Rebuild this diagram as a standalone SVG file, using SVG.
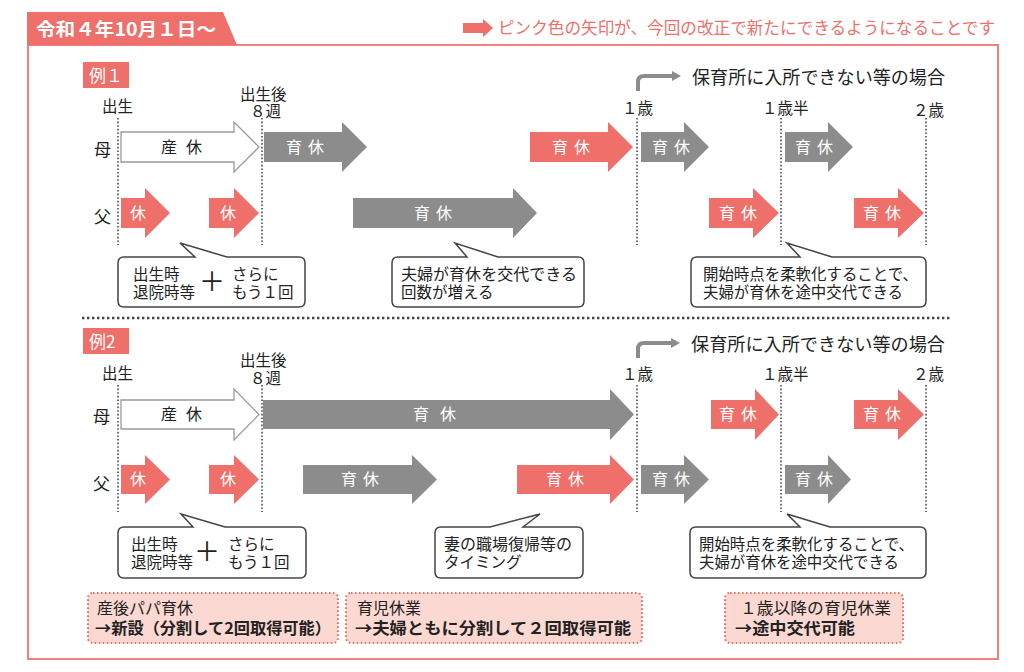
<svg xmlns="http://www.w3.org/2000/svg" width="1024" height="672" viewBox="0 0 1024 672">
<style>
text{font-family:"Noto Sans CJK JP","Noto Sans",sans-serif;fill:#222}
.pk{fill:#ef6f6a}
.gy{fill:#8c8c8c}
.wa{fill:#fff;stroke:#9a9a9a;stroke-width:1.3}
.at{fill:#fff;font-size:16px;text-anchor:middle;letter-spacing:6px}
.dt{font-size:16px;text-anchor:middle;letter-spacing:9px}
.lb{font-size:15.5px}
.rw{font-size:17px}
.vl{stroke:#333;stroke-width:1.4;stroke-dasharray:1.6 2}
.co{fill:#fff;stroke:#444;stroke-width:1.5}
.ct{font-size:15.5px}
.pb{fill:#fbd8d1;stroke:#ef6f6a;stroke-width:2;stroke-dasharray:1.6 2.4}
.pt{font-size:16px}
.bd{font-weight:bold}
.ex{fill:#fff;font-size:17px}
.bent{fill:none;stroke:#8c8c8c;stroke-width:4}
</style>

<g id="frame">
<path d="M28,45 H998 V659 H28 Z" fill="none" stroke="#f08080" stroke-width="2"/>
<path d="M27,12 H223 L237,45 H27 Z" class="pk"/>
<text x="36" y="36" class="bd" style="fill:#fff;font-size:18px" textLength="180" lengthAdjust="spacingAndGlyphs">令和４年10月１日～</text>
</g>

<g id="legend">
<path d="M463,23 H483 V19 L493,28 L483,37 V33 H463 Z" class="pk"/>
<text x="498" y="34" style="fill:#ef6f6a;font-size:16.5px" textLength="497" lengthAdjust="spacingAndGlyphs">ピンク色の矢印が、今回の改正で新たにできるようになることです</text>
</g>

<!-- Example 1 -->
<g id="ex1-label">
<rect x="83" y="62" width="46" height="26" class="pk"/>
<text x="89" y="82" class="ex">例１</text>
</g>

<g id="ex1-timeline">
<text x="102" y="112" class="lb">出生</text>
<text x="240" y="100" class="lb">出生後</text>
<text x="250" y="117" class="lb">８週</text>
<text x="622" y="114" class="lb">１歳</text>
<text x="762" y="114" class="lb">１歳半</text>
<text x="913" y="116" class="lb">２歳</text>
<text x="692" y="84" style="font-size:18px" textLength="253" lengthAdjust="spacingAndGlyphs">保育所に入所できない等の場合</text>
<text x="94" y="156" class="rw">母</text>
<text x="94" y="223" class="rw">父</text>
</g>

<g id="ex1-mother-sankyu">
<path d="M121,132 H234 V122 L259,147 L234,172 V162 H121 Z" class="wa"/>
<text x="186" y="153" class="dt">産休</text>
</g>
<g id="ex1-mother-ikukyu1">
<path d="M264,132 H342 V122 L367,147 L342,172 V162 H264 Z" class="gy"/>
<text x="308" y="153" class="at">育休</text>
</g>
<g id="ex1-mother-ikukyu2">
<path d="M530,132 H608 V122 L633,147 L608,172 V162 H530 Z" class="pk"/>
<text x="574" y="153" class="at">育休</text>
</g>
<g id="ex1-mother-ikukyu3">
<path d="M641,132 H684 V122 L709,147 L684,172 V162 H641 Z" class="gy"/>
<text x="674" y="153" class="at">育休</text>
</g>
<g id="ex1-mother-ikukyu4">
<path d="M785,132 H828 V122 L853,147 L828,172 V162 H785 Z" class="gy"/>
<text x="817" y="153" class="at">育休</text>
</g>

<g id="ex1-father-kyu1">
<path d="M121,198 H145 V188 L170,213 L145,238 V228 H121 Z" class="pk"/>
<text x="138" y="219" class="at" style="letter-spacing:0">休</text>
</g>
<g id="ex1-father-kyu2">
<path d="M209,198 H234 V188 L259,213 L234,238 V228 H209 Z" class="pk"/>
<text x="228" y="219" class="at" style="letter-spacing:0">休</text>
</g>
<g id="ex1-father-ikukyu1">
<path d="M353,198 H513 V188 L537,213 L513,238 V228 H353 Z" class="gy"/>
<text x="436" y="219" class="at">育休</text>
</g>
<g id="ex1-father-ikukyu2">
<path d="M709,198 H753 V188 L779,213 L753,238 V228 H709 Z" class="pk"/>
<text x="741" y="219" class="at">育休</text>
</g>
<g id="ex1-father-ikukyu3">
<path d="M854,198 H898 V188 L924,213 L898,238 V228 H854 Z" class="pk"/>
<text x="885" y="219" class="at">育休</text>
</g>

<g id="ex1-callout1">
<path d="M124,257 H195 L180,243 L227,257 H299 Q305,257 305,263 V301 Q305,307 299,307 H124 Q118,307 118,301 V263 Q118,257 124,257 Z" class="co"/>
<text x="133" y="280" class="ct">出生時</text>
<text x="133" y="298" class="ct">退院時等</text>
<text x="212" y="291" style="font-size:26px;text-anchor:middle">＋</text>
<text x="232" y="280" class="ct">さらに</text>
<text x="232" y="298" class="ct">もう１回</text>
</g>
<g id="ex1-callout2">
<path d="M398,257 H467 L455,243 L498,257 H578 Q584,257 584,263 V301 Q584,307 578,307 H398 Q392,307 392,301 V263 Q392,257 398,257 Z" class="co"/>
<text x="401" y="280" class="ct" textLength="176" lengthAdjust="spacingAndGlyphs">夫婦が育休を交代できる</text>
<text x="401" y="298" class="ct">回数が増える</text>
</g>
<g id="ex1-callout3">
<path d="M697,257 H800 L787,243 L832,257 H920 Q926,257 926,263 V301 Q926,307 920,307 H697 Q691,307 691,301 V263 Q691,257 697,257 Z" class="co"/>
<text x="703" y="280" class="ct" textLength="215" lengthAdjust="spacingAndGlyphs">開始時点を柔軟化することで、</text>
<text x="703" y="298" class="ct" textLength="200" lengthAdjust="spacingAndGlyphs">夫婦が育休を途中交代できる</text>
</g>

<line x1="82" y1="318" x2="950" y2="318" stroke="#444" stroke-width="2.4" stroke-dasharray="2.4 2.6"/>

<!-- Example 2 -->
<g id="ex2-label">
<rect x="83" y="328" width="46" height="26" class="pk"/>
<text x="89" y="348" class="ex">例2</text>
</g>

<g id="ex2-timeline">
<text x="102" y="379" class="lb">出生</text>
<text x="240" y="366" class="lb">出生後</text>
<text x="250" y="384" class="lb">８週</text>
<text x="622" y="380" class="lb">１歳</text>
<text x="762" y="380" class="lb">１歳半</text>
<text x="913" y="380" class="lb">２歳</text>
<text x="691" y="351" style="font-size:18px" textLength="254" lengthAdjust="spacingAndGlyphs">保育所に入所できない等の場合</text>
<text x="93" y="423" class="rw">母</text>
<text x="93" y="490" class="rw">父</text>
</g>

<g id="ex2-mother-sankyu">
<path d="M121,400 H234 V389 L259,414.5 L234,440 V429 H121 Z" class="wa"/>
<text x="186" y="420" class="dt">産休</text>
</g>
<g id="ex2-mother-ikukyu1">
<path d="M263,400 H610 V389 L634,414.5 L610,440 V429 H263 Z" class="gy"/>
<text x="440" y="420" class="at" style="letter-spacing:11px">育休</text>
</g>
<g id="ex2-mother-ikukyu2">
<path d="M711,400 H755 V389 L779,414.5 L755,440 V429 H711 Z" class="pk"/>
<text x="741" y="420" class="at">育休</text>
</g>
<g id="ex2-mother-ikukyu3">
<path d="M854,400 H898 V389 L924,414.5 L898,440 V429 H854 Z" class="pk"/>
<text x="885" y="420" class="at">育休</text>
</g>

<g id="ex2-father-kyu1">
<path d="M121,465 H145 V455 L170,479.5 L145,504 V494 H121 Z" class="pk"/>
<text x="138" y="485" class="at" style="letter-spacing:0">休</text>
</g>
<g id="ex2-father-kyu2">
<path d="M209,465 H234 V455 L259,479.5 L234,504 V494 H209 Z" class="pk"/>
<text x="228" y="485" class="at" style="letter-spacing:0">休</text>
</g>
<g id="ex2-father-ikukyu1">
<path d="M303,465 H412 V455 L437,479.5 L412,504 V494 H303 Z" class="gy"/>
<text x="363" y="485" class="at">育休</text>
</g>
<g id="ex2-father-ikukyu2">
<path d="M517,465 H610 V455 L634,479.5 L610,504 V494 H517 Z" class="pk"/>
<text x="568" y="485" class="at">育休</text>
</g>
<g id="ex2-father-ikukyu3">
<path d="M641,465 H684 V455 L709,479.5 L684,504 V494 H641 Z" class="gy"/>
<text x="674" y="485" class="at">育休</text>
</g>
<g id="ex2-father-ikukyu4">
<path d="M785,465 H828 V455 L851,479.5 L828,504 V494 H785 Z" class="gy"/>
<text x="817" y="485" class="at">育休</text>
</g>

<g id="ex2-callout1">
<path d="M124,527 H193 L181,514 L225,527 H300 Q306,527 306,533 V572 Q306,578 300,578 H124 Q118,578 118,572 V533 Q118,527 124,527 Z" class="co"/>
<text x="131" y="550" class="ct">出生時</text>
<text x="131" y="568" class="ct">退院時等</text>
<text x="207" y="561" style="font-size:26px;text-anchor:middle">＋</text>
<text x="228" y="550" class="ct">さらに</text>
<text x="228" y="568" class="ct">もう１回</text>
</g>
<g id="ex2-callout2">
<path d="M441,527 H490 L540,514 L523,527 H577 Q583,527 583,533 V572 Q583,578 577,578 H441 Q435,578 435,572 V533 Q435,527 441,527 Z" class="co"/>
<text x="444" y="550" class="ct" textLength="128" lengthAdjust="spacingAndGlyphs">妻の職場復帰等の</text>
<text x="444" y="568" class="ct">タイミング</text>
</g>
<g id="ex2-callout3">
<path d="M696,527 H800 L787,514 L830,527 H920 Q926,527 926,533 V572 Q926,578 920,578 H696 Q690,578 690,572 V533 Q690,527 696,527 Z" class="co"/>
<text x="699" y="550" class="ct" textLength="215" lengthAdjust="spacingAndGlyphs">開始時点を柔軟化することで、</text>
<text x="699" y="568" class="ct" textLength="200" lengthAdjust="spacingAndGlyphs">夫婦が育休を途中交代できる</text>
</g>

<g id="note-papa">
<rect x="88" y="593" width="250" height="50" rx="5" class="pb"/>
<text x="97" y="614" class="pt">産後パパ育休</text>
<text x="95" y="634" class="pt bd" textLength="236" lengthAdjust="spacingAndGlyphs">→新設（分割して2回取得可能）</text>
</g>
<g id="note-ikuji">
<rect x="346" y="593" width="296" height="50" rx="5" class="pb"/>
<text x="357" y="614" class="pt">育児休業</text>
<text x="355" y="634" class="pt bd" textLength="276" lengthAdjust="spacingAndGlyphs">→夫婦ともに分割して２回取得可能</text>
</g>
<g id="note-1sai">
<rect x="725" y="593" width="178" height="50" rx="5" class="pb"/>
<text x="740" y="614" class="pt" textLength="151" lengthAdjust="spacingAndGlyphs">１歳以降の育児休業</text>
<text x="735" y="634" class="pt bd" textLength="120" lengthAdjust="spacingAndGlyphs">→途中交代可能</text>
</g>

<g id="connectors">
<line x1="118" y1="118" x2="118" y2="245" class="vl"/>
<line x1="262" y1="118" x2="262" y2="245" class="vl"/>
<line x1="637" y1="118" x2="637" y2="245" class="vl"/>
<line x1="781" y1="118" x2="781" y2="245" class="vl"/>
<line x1="926" y1="118" x2="926" y2="245" class="vl"/>
<line x1="118" y1="385" x2="118" y2="512" class="vl"/>
<line x1="262" y1="385" x2="262" y2="512" class="vl"/>
<line x1="637" y1="385" x2="637" y2="512" class="vl"/>
<line x1="781" y1="385" x2="781" y2="512" class="vl"/>
<line x1="926" y1="385" x2="926" y2="512" class="vl"/>
<path d="M638,91 V82 Q638,76 644,76 H673" class="bent"/>
<path d="M672,71 L681,76 L672,81 Z" class="gy"/>
<path d="M638,358 V349 Q638,343 644,343 H672" class="bent"/>
<path d="M671,338 L680,343 L671,348 Z" class="gy"/>
</g>
</svg>
